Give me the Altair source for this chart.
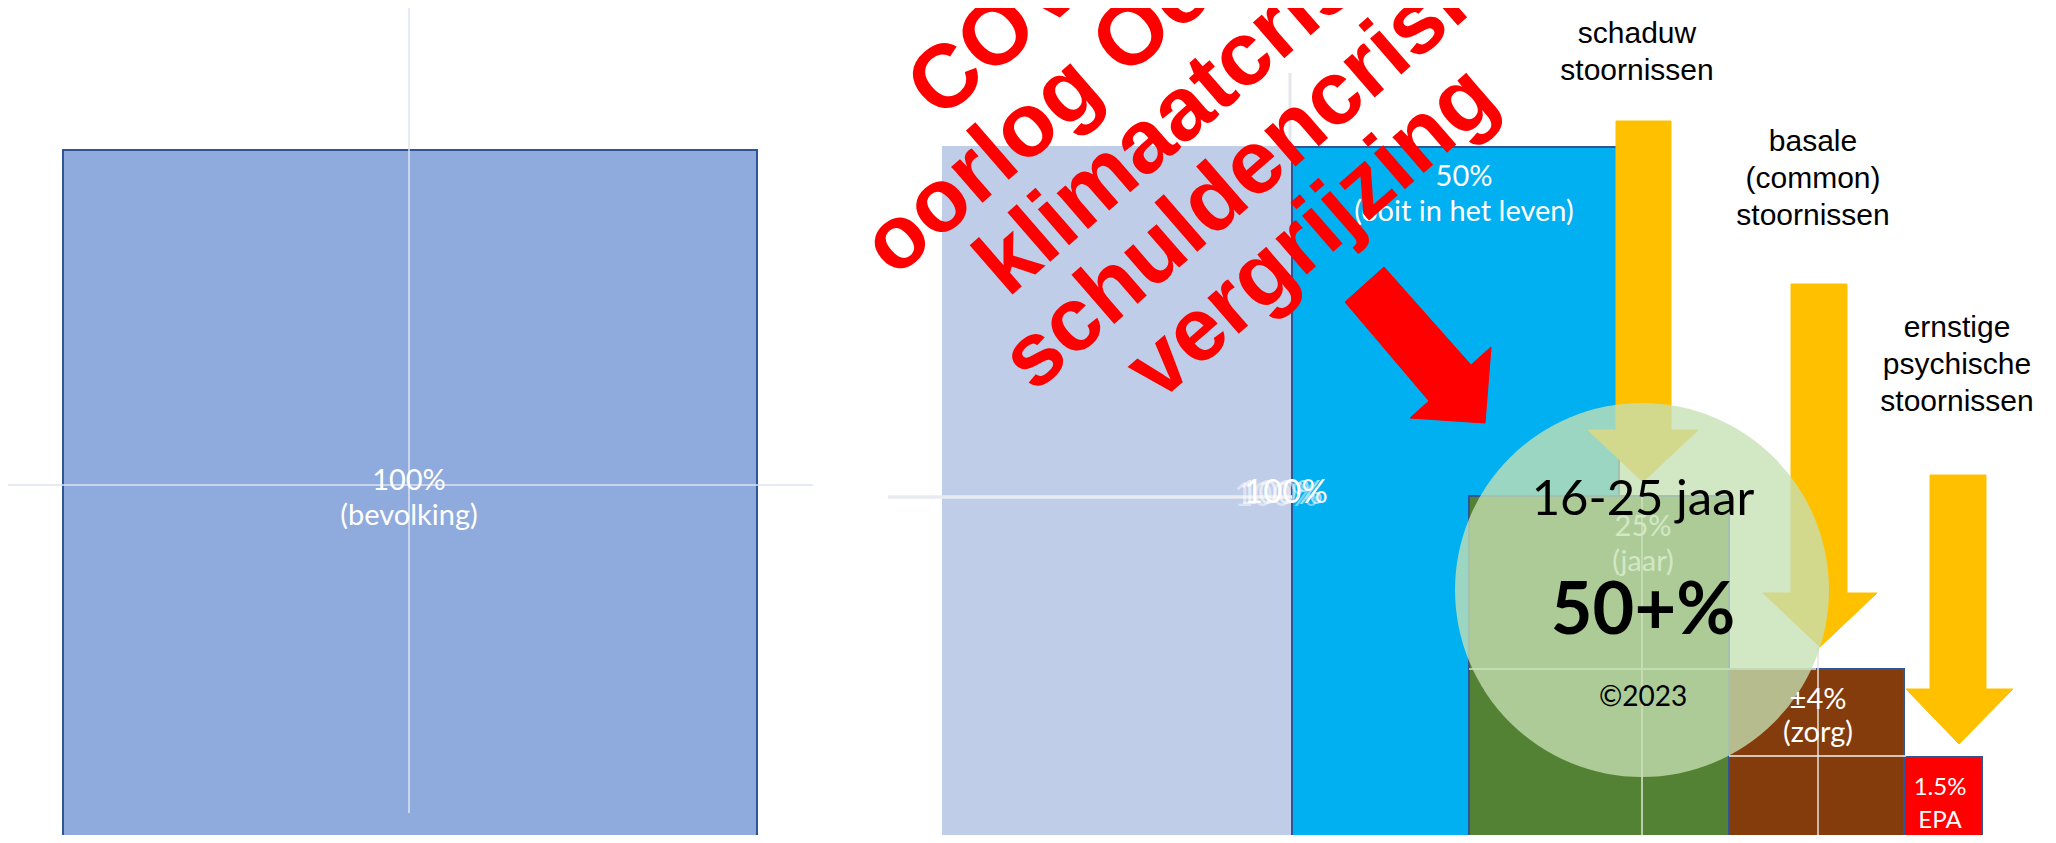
import altair as alt
import pandas as pd

# ---------------- data ----------------
# blocks (percent groups)
rect_names = ["bevolking", "achtergrond", "ooit", "jaar", "zorg", "epa"]
rect_x0 = [63, 943, 1292, 1469, 1729, 1904]
rect_x1 = [757, 1292, 1619, 1729, 1904, 1982]
rect_y0 = [150, 147, 147, 496, 669, 757]
rect_y1 = [843, 843, 839, 843, 843, 843]
rect_fill = ["#8FAADC", "#BFCDE9", "#00B0F0", "#548235", "#843C0C", "#FF0000"]
rect_stroke = ["#2F5597", "#BFCDE9", "#2F5597", "#2F5597", "#2F5597", "#2F5597"]

# light guide lines
guide_x0 = [409, 7, 888, 1290, 1642, 1469, 1818, 1729]
guide_x1 = [409, 813, 1292, 1290, 1642, 1816, 1818, 1906]
guide_y0 = [0, 485, 497, 73, 496, 669, 647, 756]
guide_y1 = [813, 485, 497, 147, 843, 669, 843, 756]
guide_w = [1.5, 1.5, 3.5, 3.0, 1.5, 1.5, 1.5, 1.5]
guide_col = ["#DCE3F2", "#DCE3F2", "#E9EBF1", "#E4E6EC", "#DDE5D6", "#DDE5D6", "#E6E0D8", "#F2F2F2"]

# white block labels (y = first line); drawn under the circle
wl_text = ["100%\n(bevolking)", "50%\n(ooit in het leven)", "25%\n(jaar)"]
wl_x = [409, 1464, 1643]
wl_y = [481, 177, 527]
# white labels drawn above the circle
top_text = ["±4%\n(zorg)", "1.5%\nEPA"]
top_x = [1818, 1940]
top_y = [700, 788]
top_size = [29, 24]
dup_text = ["100%", "100%", "100%"]
dup_x = [1276, 1281, 1286]
dup_y = [496, 494, 493]
dup_op = [0.45, 0.6, 1.0]

# yellow arrows (polygon vertices)
ya_id = [1] * 7 + [2] * 7 + [3] * 7
ya_x = [1616, 1671, 1671, 1698, 1643, 1588, 1616,
        1791, 1847, 1847, 1877, 1820, 1763, 1791,
        1930, 1986, 1986, 2013, 1959, 1906, 1930]
ya_y = [121, 121, 430, 430, 482, 430, 430,
        284, 284, 593, 593, 647, 593, 593,
        475, 475, 689, 689, 744, 689, 689]

# red arrow
ra_x = [1345, 1384, 1471, 1491, 1485, 1410, 1429, 1345]
ra_y = [302, 267, 365, 347, 423, 418, 401, 302]

# arrow captions (y = first line)
cap_text = ["schaduw\nstoornissen", "basale\n(common)\nstoornissen", "ernstige\npsychische\nstoornissen"]
cap_x = [1637, 1813, 1957]
cap_y = [34, 142, 328]

# circle
circ_x = [1642]
circ_y = [590]
circ_r = [187]

circ_text = ["16-25 jaar", "©2023"]
circ_tx = [1643, 1643]
circ_ty = [500, 698]
circ_ts = [49, 28]
big_text = ["50+%"]

# crises (anchor = centre of the first line)
crisis_lines = ["COVID-19", "oorlog Oekraïne", "klimaatcrisis", "schuldencrisis", "vergrijzing"]
crisis_x = [1079]
crisis_y = [-35]

# ---------------- chart ----------------
XS = alt.Scale(domain=[8, 2048], nice=False, zero=False)
YS = alt.Scale(domain=[8, 835], nice=False, zero=False, reverse=True)


def X(f="x"):
    return alt.X(f"{f}:Q", scale=XS, axis=None)


def Y(f="y"):
    return alt.Y(f"{f}:Q", scale=YS, axis=None)


rects = pd.DataFrame(dict(name=rect_names, x=rect_x0, x2=rect_x1, y=rect_y0, y2=rect_y1,
                          fill=rect_fill, stroke=rect_stroke))
rect_layer = alt.Chart(rects).mark_rect(strokeWidth=2, clip=True).encode(
    x=X(), x2="x2:Q", y=Y(), y2="y2:Q",
    fill=alt.Fill("fill:N", scale=None), stroke=alt.Stroke("stroke:N", scale=None))

guides = pd.DataFrame(dict(x=guide_x0, x2=guide_x1, y=guide_y0, y2=guide_y1, w=guide_w, c=guide_col))
guide_layer = alt.Chart(guides).mark_rule(clip=True).encode(
    x=X(), x2="x2:Q", y=Y(), y2="y2:Q",
    color=alt.Color("c:N", scale=None), strokeWidth=alt.StrokeWidth("w:Q", scale=None))

wl = pd.DataFrame(dict(t=wl_text, x=wl_x, y=wl_y))
wl_layer = alt.Chart(wl).mark_text(font="Lato", fontSize=29, color="white", lineBreak="\n",
                                   lineHeight=35, align="center", baseline="middle").encode(
    x=X(), y=Y(), text="t:N")

dup = pd.DataFrame(dict(t=dup_text, x=dup_x, y=dup_y, op=dup_op))
dup_layer = alt.Chart(dup).mark_text(font="Lato", fontSize=33, color="white",
                                     align="center", baseline="middle").encode(
    x=X(), y=Y(), text="t:N", opacity=alt.Opacity("op:Q", scale=None))

top = pd.DataFrame(dict(t=top_text, x=top_x, y=top_y, s=top_size))
top_layer = alt.Chart(top).mark_text(font="Lato", color="white", lineBreak="\n",
                                     lineHeight=33, align="center", baseline="middle").encode(
    x=X(), y=Y(), text="t:N", size=alt.Size("s:Q", scale=None))

ya = pd.DataFrame(dict(id=ya_id, x=ya_x, y=ya_y, o=list(range(len(ya_x)))))
ya_layer = alt.Chart(ya).mark_line(fill="#FFC000", stroke="#FFC000", strokeWidth=1,
                                   interpolate="linear-closed").encode(
    x=X(), y=Y(), order="o:Q", detail="id:N")

# Vega circle symbol: size = (diameter)^2
circ = pd.DataFrame(dict(x=circ_x, y=circ_y, s=[(2 * r) ** 2 for r in circ_r]))
circ_layer = alt.Chart(circ).mark_circle(color="#C5E0B4", opacity=0.78).encode(
    x=X(), y=Y(), size=alt.Size("s:Q", scale=None))

ct = pd.DataFrame(dict(t=circ_text, x=circ_tx, y=circ_ty, s=circ_ts))
ct_layer = alt.Chart(ct).mark_text(font="Lato", color="black", align="center", baseline="middle").encode(
    x=X(), y=Y(), text="t:N", size=alt.Size("s:Q", scale=None))

big = pd.DataFrame(dict(t=big_text, x=[1643], y=[612]))
big_layer = alt.Chart(big).mark_text(font="Lato", fontWeight="bold", fontSize=72, color="black",
                                     align="center", baseline="middle").encode(
    x=X(), y=Y(), text="t:N")

ra = pd.DataFrame(dict(x=ra_x, y=ra_y, o=list(range(len(ra_x)))))
ra_layer = alt.Chart(ra).mark_line(fill="#FF0000", stroke="#FF0000", strokeWidth=1).encode(
    x=X(), y=Y(), order="o:Q")

crisis = pd.DataFrame(dict(t=["\n".join(crisis_lines)], x=crisis_x, y=crisis_y))
crisis_layer = alt.Chart(crisis).mark_text(font="Liberation Sans", fontWeight="bold", fontSize=90,
                                           color="#FF0000", lineBreak="\n", lineHeight=89, angle=319,
                                           align="center", baseline="middle").encode(
    x=X(), y=Y(), text="t:N")

cap = pd.DataFrame(dict(t=cap_text, x=cap_x, y=cap_y))
cap_layer = alt.Chart(cap).mark_text(font="Liberation Sans", fontSize=30, color="black", lineBreak="\n",
                                     lineHeight=37, align="center", baseline="middle").encode(
    x=X(), y=Y(), text="t:N")

chart = alt.layer(
    rect_layer, guide_layer, wl_layer, dup_layer, ya_layer, circ_layer, top_layer,
    ct_layer, big_layer, ra_layer, crisis_layer, cap_layer
).properties(
    width=2040, height=827, padding=0, background="white",
    autosize=alt.AutoSizeParams(type="none")
).configure_view(strokeWidth=0)

chart.save("out.html", embed_options={"renderer": "svg", "actions": False})
